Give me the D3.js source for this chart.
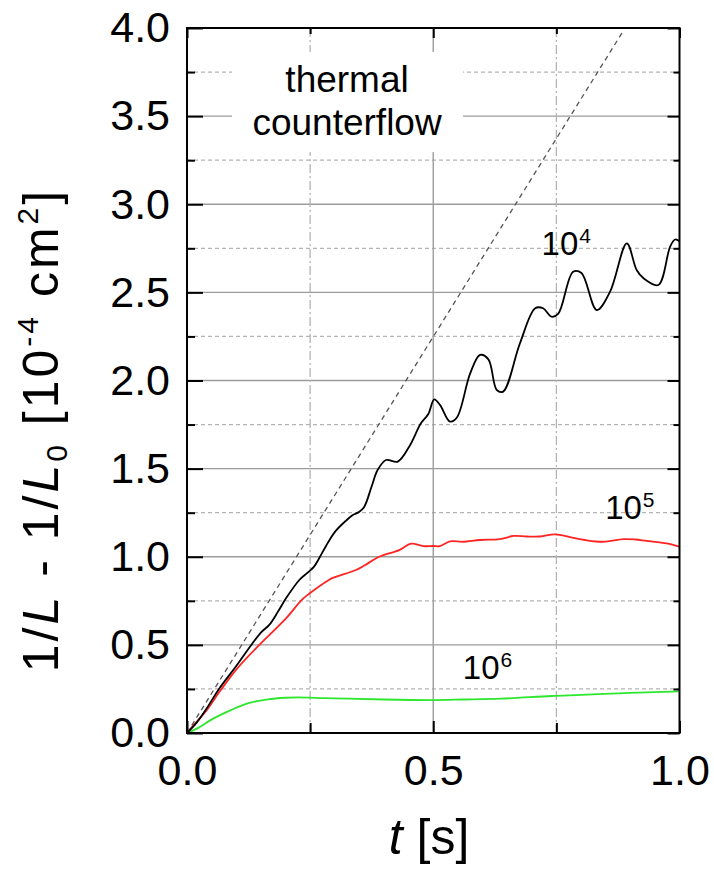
<!DOCTYPE html>
<html>
<head>
<meta charset="utf-8">
<script src="https://cdn.jsdelivr.net/npm/d3@7"></script>
<style>
  body { margin: 0; background: #fff; }
  svg { display: block; }
  text { font-family: "Liberation Sans", Arial, sans-serif; fill: #000; }
</style>
</head>
<body>
<svg id="chart" width="714" height="872"></svg>
<script>
// Axis ticks
const xMajorTicks = [0, 0.5, 1.0];
const xMinorTicks = [0.25, 0.75];
const yMajorTicks = [0, 0.5, 1.0, 1.5, 2.0, 2.5, 3.0, 3.5, 4.0];
const yMinorTicks = [0.25, 0.75, 1.25, 1.75, 2.25, 2.75, 3.25, 3.75];

// Series for 10^4
const t1e4 = [0, 0.02, 0.04, 0.066, 0.10, 0.133, 0.15, 0.167, 0.185, 0.201, 0.228, 0.245, 0.258, 0.27, 0.282, 0.30,
  0.323, 0.336, 0.35, 0.36, 0.375, 0.387, 0.404, 0.428, 0.451, 0.475, 0.49, 0.502, 0.514, 0.534, 0.548, 0.575,
  0.595, 0.612, 0.629, 0.642, 0.676, 0.707, 0.723, 0.74, 0.754, 0.784, 0.801, 0.832, 0.859, 0.893, 0.913, 0.927,
  0.957, 0.981, 0.991, 1.0];
const v1e4 = [0, 0.06, 0.14, 0.254, 0.38, 0.509, 0.57, 0.613, 0.69, 0.764, 0.868, 0.91, 0.944, 1.0, 1.06, 1.14,
  1.205, 1.235, 1.255, 1.284, 1.40, 1.492, 1.549, 1.54, 1.624, 1.757, 1.81, 1.893, 1.86, 1.767, 1.79, 2.04,
  2.145, 2.12, 1.946, 1.937, 2.211, 2.41, 2.41, 2.362, 2.38, 2.617, 2.61, 2.40, 2.504, 2.778, 2.627, 2.58,
  2.542, 2.76, 2.80, 2.79];

// Series for 10^5
const t1e5 = [0, 0.02, 0.04, 0.066, 0.10, 0.15, 0.157, 0.201, 0.233, 0.248, 0.288, 0.296, 0.343, 0.36, 0.39, 0.431,
  0.455, 0.48, 0.5, 0.513, 0.534, 0.56, 0.595, 0.635, 0.663, 0.69, 0.717, 0.747, 0.78, 0.808, 0.845, 0.886,
  0.91, 0.933, 0.974, 1.0];
const v1e5 = [0, 0.065, 0.13, 0.234, 0.36, 0.509, 0.528, 0.65, 0.755, 0.79, 0.868, 0.88, 0.925, 0.95, 1.0, 1.038,
  1.074, 1.06, 1.061, 1.06, 1.087, 1.085, 1.095, 1.10, 1.118, 1.115, 1.115, 1.127, 1.11, 1.095, 1.085, 1.10,
  1.098, 1.09, 1.076, 1.057];

// Series for 10^6
const t1e6 = [0, 0.02, 0.054, 0.089, 0.123, 0.164, 0.2, 0.225, 0.28, 0.328, 0.4, 0.5, 0.56, 0.638, 0.74, 0.8, 0.877, 0.95, 1.0];
const v1e6 = [0, 0.025, 0.083, 0.13, 0.168, 0.191, 0.2, 0.202, 0.198, 0.195, 0.19, 0.187, 0.19, 0.195, 0.21, 0.216, 0.225, 0.232, 0.236];

// Thermal counterflow reference line (end points)
const counterflowT = [0, 0.885];
const counterflowV = [0, 3.98];

const margin = { left: 187, top: 28 };
const W = 492.5, H = 705;

const svg = d3.select("#chart");
const g = svg.append("g").attr("transform", `translate(${margin.left},${margin.top})`);

const x = d3.scaleLinear().domain([0, 1]).range([0, W]);
const y = d3.scaleLinear().domain([0, 4]).range([H, 0]);

// Grid
const grid = g.append("g");
grid.selectAll("line.ymaj").data(yMajorTicks.filter(d => d > 0 && d < 4)).join("line")
  .attr("x1", 0).attr("x2", W).attr("y1", d => y(d)).attr("y2", d => y(d))
  .attr("stroke", "#9c9c9c").attr("stroke-width", 1.4);
grid.selectAll("line.ymin").data(yMinorTicks).join("line")
  .attr("x1", 0).attr("x2", W).attr("y1", d => y(d)).attr("y2", d => y(d))
  .attr("stroke", "#b4b4b4").attr("stroke-width", 1.3).attr("stroke-dasharray", "4,3");
grid.selectAll("line.xmaj").data(xMajorTicks.filter(d => d > 0 && d < 1)).join("line")
  .attr("y1", 0).attr("y2", H).attr("x1", d => x(d)).attr("x2", d => x(d))
  .attr("stroke", "#9c9c9c").attr("stroke-width", 1.4);
grid.selectAll("line.xmin").data(xMinorTicks).join("line")
  .attr("y1", 0).attr("y2", H).attr("x1", d => x(d)).attr("x2", d => x(d))
  .attr("stroke", "#b4b4b4").attr("stroke-width", 1.3).attr("stroke-dasharray", "9,3,2,3");

// Blank panel behind the annotation
g.append("rect")
  .attr("x", x(0.0914)).attr("y", y(3.864))
  .attr("width", x(0.5604) - x(0.0914)).attr("height", y(3.296) - y(3.864))
  .attr("fill", "#fff");

g.append("text").attr("x", x(0.325)).attr("y", y(3.637)).attr("text-anchor", "middle")
  .attr("font-size", 37).text("thermal");
g.append("text").attr("x", x(0.325)).attr("y", y(3.393)).attr("text-anchor", "middle")
  .attr("font-size", 37).text("counterflow");

// Data lines
const line = d3.line().x(d => x(d[0])).y(d => y(d[1])).curve(d3.curveCatmullRom.alpha(0.5));
const zip = (a, b) => a.map((d, i) => [d, b[i]]);

g.append("path").datum(zip(counterflowT, counterflowV))
  .attr("d", d3.line().x(d => x(d[0])).y(d => y(d[1])))
  .attr("fill", "none").attr("stroke", "#555").attr("stroke-width", 1.3).attr("stroke-dasharray", "5,4");

g.append("path").datum(zip(t1e6, v1e6)).attr("d", line)
  .attr("fill", "none").attr("stroke", "#2ee62e").attr("stroke-width", 1.8);
g.append("path").datum(zip(t1e5, v1e5)).attr("d", line)
  .attr("fill", "none").attr("stroke", "#ff2424").attr("stroke-width", 1.8);
g.append("path").datum(zip(t1e4, v1e4)).attr("d", line)
  .attr("fill", "none").attr("stroke", "#000").attr("stroke-width", 1.8);

// Series labels
function powLabel(tx, ty, exp) {
  const t = g.append("text").attr("x", x(tx)).attr("y", y(ty)).attr("font-size", 33);
  t.append("tspan").text("10");
  t.append("tspan").attr("font-size", 21).attr("dy", -12).attr("dx", 1).text(exp);
}
powLabel(0.72, 2.712, "4");
powLabel(0.849, 1.212, "5");
powLabel(0.560, 0.305, "6");

// Axes
function styleAxis(sel) {
  sel.select(".domain").remove();
  sel.selectAll(".tick line").attr("stroke", "#000").attr("stroke-width", 2);
  sel.selectAll(".tick text").attr("font-size", 43).attr("fill", "#000")
    .attr("font-family", '"Liberation Sans", Arial, sans-serif');
}
const fmt = d3.format(".1f");
g.append("g").attr("transform", `translate(0,${H})`)
  .call(d3.axisBottom(x).tickValues(xMajorTicks).tickSize(-12).tickPadding(21).tickFormat(fmt)).call(styleAxis);
g.append("g").attr("transform", `translate(0,${H})`)
  .call(d3.axisBottom(x).tickValues(xMinorTicks).tickSize(-10).tickFormat("")).call(styleAxis);
g.append("g")
  .call(d3.axisTop(x).tickValues(xMajorTicks).tickSize(-10).tickFormat("")).call(styleAxis);
g.append("g")
  .call(d3.axisTop(x).tickValues(xMinorTicks).tickSize(-6).tickFormat("")).call(styleAxis);
g.append("g")
  .call(d3.axisLeft(y).tickValues(yMajorTicks).tickSize(-16).tickPadding(17).tickFormat(fmt)).call(styleAxis);
g.append("g")
  .call(d3.axisLeft(y).tickValues(yMinorTicks).tickSize(-8).tickFormat("")).call(styleAxis);
g.append("g").attr("transform", `translate(${W},0)`)
  .call(d3.axisRight(y).tickValues(yMajorTicks).tickSize(-12).tickFormat("")).call(styleAxis);
g.append("g").attr("transform", `translate(${W},0)`)
  .call(d3.axisRight(y).tickValues(yMinorTicks).tickSize(-6).tickFormat("")).call(styleAxis);

// Frame
g.append("rect").attr("width", W).attr("height", H)
  .attr("fill", "none").attr("stroke", "#000").attr("stroke-width", 2);

// Axis titles
const xt = svg.append("text").attr("x", 429).attr("y", 854)
  .attr("text-anchor", "middle").attr("font-size", 50);
xt.append("tspan").attr("font-style", "italic").text("t");
xt.append("tspan").text(" [s]");

const yt = svg.append("text")
  .attr("transform", "translate(58,430) rotate(-90)")
  .attr("text-anchor", "middle").attr("font-size", 50).attr("letter-spacing", 3);
yt.append("tspan").text("1/");
yt.append("tspan").attr("font-style", "italic").text("L");
yt.append("tspan").text(" - 1/");
yt.append("tspan").attr("font-style", "italic").text("L");
yt.append("tspan").attr("font-size", 30).attr("dy", 9).text("0");
yt.append("tspan").attr("dy", -9).text(" [10");
yt.append("tspan").attr("font-size", 30).attr("dy", -20).text("-4");
yt.append("tspan").attr("dy", 20).text(" cm");
yt.append("tspan").attr("font-size", 30).attr("dy", -20).text("2");
yt.append("tspan").attr("dy", 20).text("]");
</script>
</body>
</html>
